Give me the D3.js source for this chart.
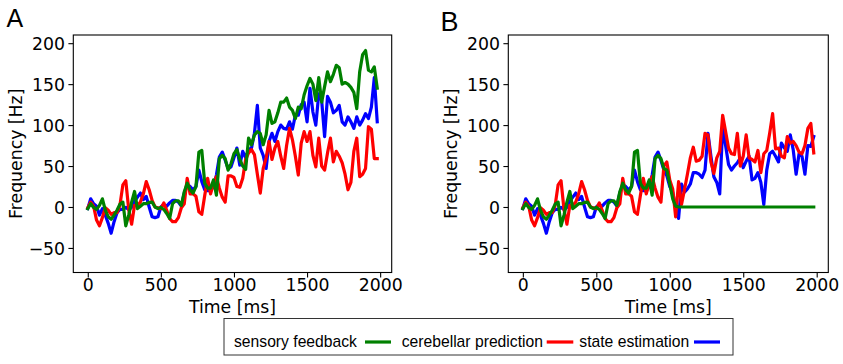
<!DOCTYPE html>
<html><head><meta charset="utf-8">
<script src="https://cdn.jsdelivr.net/npm/d3@7"></script>
<style>body{margin:0;background:#fff}svg{display:block}</style>
</head><body>
<svg id="chart" width="843" height="364"></svg>
<script>
// ---- data (Hz), sampled every 20 ms ----
const binMs = 20;
// shared part, t = 0 .. 940 ms (identical in both panels)
const sensoryEarly = [-2,4,-0.5,-3,2,10,-4,-12,-15,-10,-4,3.5,6,-23,-10,6,19,-2,1,4,4,5.6,6,0,-2,-0.5,-3,-8,-14,4,7.6,7.6,2,18.6,29,21,17,25,67,69,29,23,23,33,14.5,59,63,59];
const predictionEarly = [-1,6,1,-16,-23,-13,-1,-4,-9,-7,-7,2,27,32,-3,-21,2,2,6,16,31,21,8,0,-1,-2,5,-4,-14,-18,-18,-13,-1,4,35,16,16,13,-6,-9,14,35,16,29,37,23,12,6];
const estimationEarly = [-2,10,4,1,-10,-2,-10,-20,-32,-18,-7,-3,-3,-0.5,-3,-0.5,7,12,17,9,13,0,-12,-13,-12,0,3,1,5,8,8,6,1,17,27,25,21,25,45,31,21,20,20,25,39,61,67,57];
// panel A, t = 960 .. 1980 ms
const sensoryLateA = [45,53,65,70,58,50,46,84,76,88,92,90,76,88,118,102,104,115,128,128,133,122,118,108,122,120,137,148,157,150,130,158,128,147,165,153,162,173,170,150,152,150,146,140,120,165,186,191,167,165,171,145];
const predictionLateA = [38,38,36,25,24,35,58,66,70,64,40,17,47,60,80,58,72,80,62,47,75,96,82,62,39,78,92,80,92,63,49,84,50,45,66,84,55,68,62,54,40,21,30,68,84,37,40,47,98,95,59,59];
const estimationLateA = [47,49,60,72,51,68,60,70,72,90,124,72,63,47,80,90,80,92,100,96,95,104,95,112,112,125,128,104,145,116,100,138,130,86,135,128,115,118,124,104,100,110,104,96,110,100,106,114,108,122,158,104];
// panel B, t = 960 .. 1980 ms (sensory feedback removed)
const sensoryLateB = [47,45,28,10,1,0,0,0,0,0,0,0,0,0,0,0,0,0,0,0,0,0,0,0,0,0,0,0,0,0,0,0,0,0,0,0,0,0,0,0,0,0,0,0,0,0,0,0,0,0,0,0];
const predictionLateB = [50,55,33,22,-12,31,3,21,40,60,73,56,57,62,90,88,55,41,60,68,112,92,72,65,64,90,50,62,88,60,58,55,69,42,65,69,90,114,71,72,62,60,86,78,80,75,67,65,75,96,102,66];
const estimationLateB = [45,38,25,18,0,-14,28,18,22,28,42,42,40,36,45,90,62,37,30,16,98,75,52,45,50,54,60,48,56,62,33,35,42,30,3,45,65,68,62,55,78,72,68,88,70,40,65,62,40,75,74,86];

const xTicks = [0,500,1000,1500,2000];
const yTicks = [-50,0,50,100,150,200];
const xDomain = [-99, 2079];
const yDomain = [-80, 210];
const panelLabels = ["A","B"];
const legendLabels = ["sensory feedback","cerebellar prediction","state estimation"];
const seriesColors = ["#008000","#ff0000","#0000ff"];

// ---- drawing ----
const svg = d3.select("#chart");
svg.append("rect").attr("width",843).attr("height",364).attr("fill","#fff");

const panelsData = [
  {sensory: sensoryEarly.concat(sensoryLateA), prediction: predictionEarly.concat(predictionLateA), estimation: estimationEarly.concat(estimationLateA)},
  {sensory: sensoryEarly.concat(sensoryLateB), prediction: predictionEarly.concat(predictionLateB), estimation: estimationEarly.concat(estimationLateB)}
];
const layouts = [
  {left:73.3, right:391.7, top:35, bottom:272.5, labelX:6.5, labelY:26.5, labelSize:25},
  {left:508.3, right:828.3, top:35, bottom:272.5, labelX:440.5, labelY:31.2, labelSize:27}
];
const axisFont = "'DejaVu Sans', sans-serif";
const fs = 17.3;
const minusFmt = d => (d < 0 ? "\u2212" : "") + Math.abs(d);

panelsData.forEach((pd, pi) => {
  const L = layouts[pi];
  const x = d3.scaleLinear().domain(xDomain).range([L.left, L.right]);
  const y = d3.scaleLinear().domain(yDomain).range([L.bottom, L.top]);
  const g = svg.append("g");

  const line = d3.line().x((d,i) => x(i*binMs)).y(d => y(d));
  // draw order: estimation (blue), prediction (red), sensory (green) on top
  [["estimation",2],["prediction",1],["sensory",0]].forEach(([key, ci]) => {
    g.append("path").datum(pd[key]).attr("d", line)
      .attr("fill","none").attr("stroke", seriesColors[ci])
      .attr("stroke-width",3.2).attr("stroke-linejoin","round").attr("stroke-linecap","square");
  });

  // frame
  g.append("rect").attr("x",L.left).attr("y",L.top)
    .attr("width",L.right-L.left).attr("height",L.bottom-L.top)
    .attr("fill","none").attr("stroke","#000").attr("stroke-width",1.1);

  // y axis
  const ya = g.append("g").attr("transform",`translate(${L.left},0)`)
    .call(d3.axisLeft(y).tickValues(yTicks).tickFormat(minusFmt).tickSize(4.9).tickPadding(3.3));
  ya.select(".domain").remove();
  ya.selectAll(".tick line").attr("stroke","#000").attr("stroke-width",1.1);
  ya.selectAll(".tick text").attr("font-family",axisFont).attr("font-size",fs).attr("fill","#000").attr("dy","0.36em");

  // x axis
  const xa = g.append("g").attr("transform",`translate(0,${L.bottom})`)
    .call(d3.axisBottom(x).tickValues(xTicks).tickFormat(minusFmt).tickSize(4.9).tickPadding(1.6));
  xa.select(".domain").remove();
  xa.selectAll(".tick line").attr("stroke","#000").attr("stroke-width",1.1);
  xa.selectAll(".tick text").attr("font-family",axisFont).attr("font-size",fs).attr("fill","#000");

  // axis labels
  g.append("text").attr("x",(L.left+L.right)/2).attr("y",313)
    .attr("text-anchor","middle").attr("font-family",axisFont).attr("font-size",fs).attr("fill","#000")
    .text("Time [ms]");
  g.append("text").attr("transform",`translate(${L.left-51},${(L.top+L.bottom)/2}) rotate(-90)`)
    .attr("text-anchor","middle").attr("font-family",axisFont).attr("font-size",fs).attr("fill","#000")
    .text("Frequency [Hz]");

  // panel label
  g.append("text").attr("x",L.labelX).attr("y",L.labelY)
    .attr("font-family","'Liberation Sans', Arial, sans-serif").attr("font-size",L.labelSize).attr("fill","#000")
    .text(panelLabels[pi]);
});

// legend
const lg = svg.append("g");
lg.append("rect").attr("x",224).attr("y",318.5).attr("width",509).attr("height",36.5)
  .attr("fill","#fff").attr("stroke","#333").attr("stroke-width",1);
const legendText = [234, 401.7, 579.3];
const legendLine = [[365,391],[546.7,573.3],[694,720]];
legendLabels.forEach((lab, i) => {
  lg.append("text").attr("x",legendText[i]).attr("y",346.5)
    .attr("font-family","'Liberation Sans', Arial, sans-serif").attr("font-size",15.7).attr("fill","#000")
    .text(lab);
  lg.append("line").attr("x1",legendLine[i][0]).attr("x2",legendLine[i][1])
    .attr("y1",342).attr("y2",342).attr("stroke",seriesColors[i]).attr("stroke-width",3.2);
});
</script>
</body></html>
